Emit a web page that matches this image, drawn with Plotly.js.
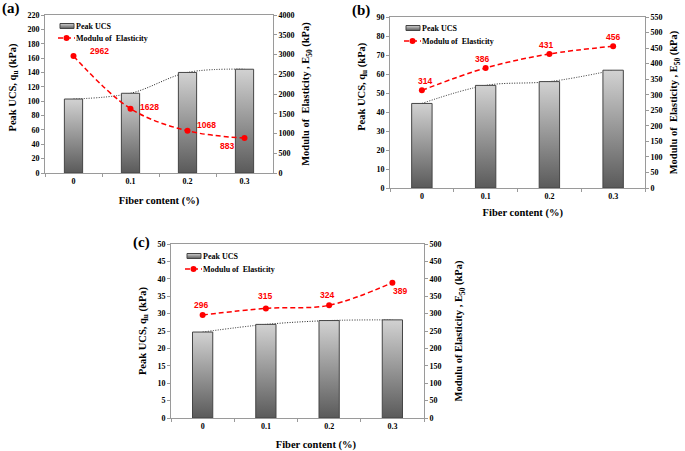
<!DOCTYPE html>
<html><head><meta charset="utf-8">
<script src="https://cdn.plot.ly/plotly-3.0.1.min.js"></script>
<style>html,body{margin:0;padding:0;background:#fff}</style>
</head><body>
<svg width="0" height="0" style="position:absolute"><defs>
<linearGradient id="barGrad" x1="0" y1="0" x2="0" y2="1">
<stop offset="0" stop-color="#d2d2d2"/><stop offset="1" stop-color="#5a5a5a"/>
</linearGradient></defs></svg>
<div id="chart" style="width:685px;height:451px"></div>
<script>
// ---- data ----
const categories = ['0', '0.1', '0.2', '0.3'];
const ucsA = [103, 111, 140, 144.5];
const modA = [2962, 1628, 1068, 883];
const ucsB = [44.5, 54, 56, 62];
const modB = [314, 386, 431, 456];
const ucsC = [24.7, 26.9, 28, 28.2];
const modC = [296, 315, 324, 389];
const panelLabels = ['(a)', '(b)', '(c)'];
const barName = 'Peak UCS';
const lineName = 'Modulu of\u00a0 Elasticity';
const xTitle = 'Fiber content (%)';
const yLeftTitle = 'Peak UCS, q<sub>u</sub> (kPa)';
const yRightTitle = 'Modulu of\u00a0 Elasticity , E<sub>50</sub> (kPa)';
const yRightTitleC = 'Modulu of Elasticity , E<sub>50</sub> (kPa)';

// ---- style ----
const W = 685, H = 451;
const SERIF = 'Liberation Serif, Times New Roman, serif';
const SANS = 'Liberation Sans, Arial, sans-serif';
const AX = '#9a9a9a';
const RED = '#ff0000';
const tickFont = {family: SERIF, size: 8, weight: 'bold', color: '#000'};
const titleFont = {family: SERIF, size: 10.5, weight: 'bold', color: '#000'};
const px = v => v / W, py = v => 1 - v / H;
const pad = n => '\u200b' + '\u00a0'.repeat(n);   // leading padding to nudge a centred title

// label pixel offsets [dx, dy(up)]
const offA = [[26, 5], [19, 2], [19, 6], [-18, -8]];
const offB = [[3, 9], [-4, 9], [-3, 9], [0, 9]];
const offC = [[-2, 10], [-1, 12], [-2, 10], [8, -8]];

function xAx(d0, d1, anchor, title, so) {
  return {domain: [px(d0), px(d1)], anchor: anchor, type: 'category', range: [-0.5, 3.5],
    showline: true, mirror: true, linecolor: AX, linewidth: 1, ticks: 'outside', tickson: 'boundaries',
    ticklen: 3, tickcolor: AX, tickfont: tickFont, showgrid: false, zeroline: false,
    title: {text: title, font: titleFont, standoff: so}};
}
function yLeft(t0, t1, anchor, range, dtick, title) {
  return {domain: [py(t1), py(t0)], anchor: anchor, range: range, dtick: dtick, tick0: 0,
    showline: true, linecolor: AX, linewidth: 1, ticks: 'outside', ticklen: 3, tickcolor: AX,
    tickfont: tickFont, showgrid: false, zeroline: false, title: {text: title, font: titleFont, standoff: 8}};
}
function yHidden(base, anchor, range) {
  return {overlaying: base, anchor: anchor, range: range, visible: false, showgrid: false, zeroline: false};
}
function yRight(base, anchor, range, dtick, title, so) {
  return {overlaying: base, anchor: anchor, side: 'right', range: range, dtick: dtick, tick0: 0,
    showline: true, linecolor: AX, linewidth: 1, ticks: 'outside', ticklen: 3, tickcolor: AX,
    tickfont: tickFont, showgrid: false, zeroline: false, title: {text: title, font: titleFont, standoff: so}};
}

function panel(xa, yBase, yBar, yMod, ucs, mod, legA, legB) {
  return [
    {type: 'scatter', x: categories, y: ucs, xaxis: xa, yaxis: yBase, mode: 'lines',
     line: {color: '#222', width: 1, dash: '1px,1.5px', shape: 'spline'}, showlegend: false, hoverinfo: 'skip'},
    {type: 'bar', x: categories, y: ucs, xaxis: xa, yaxis: yBar, width: 0.32, name: barName, legend: legA,
     marker: {color: '#9a9a9a', line: {color: '#454545', width: 1}}},
    {type: 'scatter', x: categories, y: mod, xaxis: xa, yaxis: yMod, mode: 'lines+markers', name: lineName, legend: legB,
     line: {color: RED, width: 1.5, dash: '5px,3px', shape: 'spline'}, marker: {size: 6, color: RED}}
  ];
}

const data = [].concat(
  panel('x', 'y', 'y2', 'y3', ucsA, modA, 'legend', 'legend2'),
  panel('x2', 'y4', 'y5', 'y6', ucsB, modB, 'legend3', 'legend4'),
  panel('x3', 'y7', 'y8', 'y9', ucsC, modC, 'legend5', 'legend6')
);

function labels(xa, ya, mod, off) {
  // category axis: use the category index so '0.1' is not read as a numeric position
  return mod.map((v, i) => ({x: categories.indexOf(categories[i]), y: v, xref: xa, yref: ya, text: String(v),
    showarrow: false, xshift: off[i][0], yshift: off[i][1],
    font: {family: SANS, size: 8.5, weight: 'bold', color: RED}}));
}
const annotations = [].concat(
  labels('x', 'y3', modA, offA), labels('x2', 'y6', modB, offB), labels('x3', 'y9', modC, offC),
  [[0, 9], [350, 10], [131, 242]].map((p, i) => ({xref: 'paper', yref: 'paper', x: px(p[0]), y: py(p[1]),
    xanchor: 'left', yanchor: 'middle', showarrow: false, text: panelLabels[i],
    font: {family: SERIF, size: 15, weight: 'bold', color: '#000'}}))
);

function leg(xp, yp) {
  return {x: px(xp), y: py(yp), xanchor: 'left', yanchor: 'middle', bgcolor: 'rgba(0,0,0,0)', borderwidth: 0,
    itemwidth: 30, font: {family: SERIF, size: 8, weight: 'bold', color: '#000'}};
}

const layout = {
  width: W, height: H, margin: {l: 0, r: 0, t: 0, b: 0}, paper_bgcolor: '#fff', plot_bgcolor: '#fff',
  showlegend: true, annotations: annotations,
  xaxis: xAx(45, 273, 'y', xTitle, 12),
  yaxis: yLeft(15, 173, 'x', [0, 220], 20, pad(5) + yLeftTitle),
  yaxis2: yHidden('y', 'x', [0, 220]),
  yaxis3: yRight('y', 'x', [0, 4000], 500, yRightTitle, 8),
  xaxis2: xAx(390, 645, 'y4', pad(4) + xTitle, 9),
  yaxis4: yLeft(17, 188, 'x2', [0, 90], 10, pad(12) + yLeftTitle),
  yaxis5: yHidden('y4', 'x2', [0, 90]),
  yaxis6: yRight('y4', 'x2', [0, 550], 50, yRightTitle, 8),
  xaxis3: xAx(171, 424, 'y7', pad(14) + xTitle, 11),
  yaxis7: yLeft(244, 418, 'x3', [0, 50], 5, yLeftTitle),
  yaxis8: yHidden('y7', 'x3', [0, 50]),
  yaxis9: yRight('y7', 'x3', [0, 500], 50, yRightTitleC, 14),
  legend: leg(36, 26), legend2: leg(36, 38),
  legend3: leg(382, 28), legend4: leg(382, 41),
  legend5: leg(163, 256), legend6: leg(163, 269)
};

function restyleSvg(gd) {
  gd.querySelectorAll('.barlayer .point path').forEach(function (p) { p.style.fill = 'url(#barGrad)'; });
  gd.querySelectorAll('.legendpoints path').forEach(function (p) {
    if (p.classList.contains('scatterpts')) {
      p.setAttribute('transform', 'translate(30.5,0)');
    } else {
      p.setAttribute('d', 'M-7,2.5H7V-2.5H-7Z');
      p.setAttribute('transform', 'translate(31,0)');
      p.style.fill = 'url(#barGrad)';
      p.style.stroke = '#454545';
      p.style.strokeWidth = '1px';
    }
  });
  gd.querySelectorAll('.legendlines path').forEach(function (p) { p.setAttribute('d', 'M22,0h17'); });
}

const gdEl = document.getElementById('chart');
Plotly.newPlot(gdEl, data, layout, {staticPlot: true, displayModeBar: false}).then(function (gd) {
  restyleSvg(gd);
  gd.on && gd.on('plotly_afterplot', function () { restyleSvg(gd); });
  setTimeout(function () { restyleSvg(gd); }, 0);
  setTimeout(function () { restyleSvg(gd); }, 50);
});
</script>
</body></html>
